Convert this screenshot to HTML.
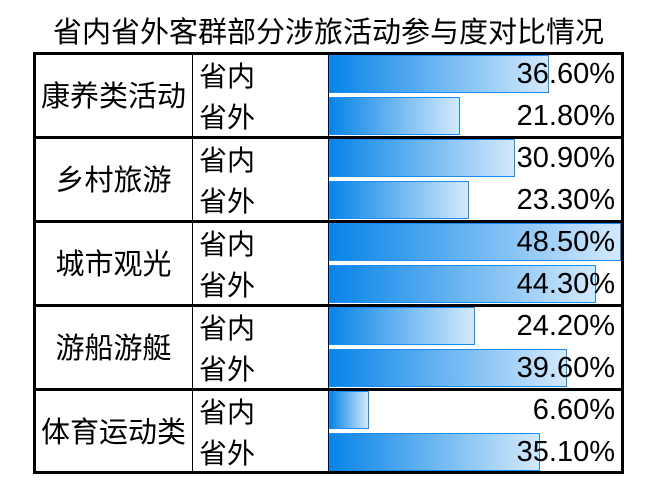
<!DOCTYPE html>
<html>
<head>
<meta charset="utf-8">
<style>
html,body{margin:0;padding:0;background:#fff;}
body{width:668px;height:496px;position:relative;overflow:hidden;font-family:"Liberation Sans","Noto Sans CJK SC",sans-serif;color:#000;}
.a{position:absolute;white-space:nowrap;}
.line{position:absolute;background:#000;}
.bar{position:absolute;left:329px;height:38px;box-sizing:border-box;border:1px solid #1a8cf0;background:linear-gradient(to right,#0784e8,#d3e9fc);}
.title{left:0;width:657px;text-align:center;font-size:29px;top:3px;height:60px;line-height:60px;}
.g{left:35px;width:157px;text-align:center;font-size:29px;height:40px;line-height:40px;}
.r{left:199px;font-size:28px;height:40px;line-height:40px;}
.p{right:53px;text-align:right;font-size:29px;height:40px;line-height:40px;}
</style>
</head>
<body>
<div class="a title">省内省外客群部分涉旅活动参与度对比情况</div>

<!-- bars -->
<div class="bar" style="top:55px;width:220px;"></div>
<div class="bar" style="top:97px;width:131px;"></div>
<div class="bar" style="top:139px;width:186px;"></div>
<div class="bar" style="top:181px;width:140px;"></div>
<div class="bar" style="top:223px;width:292px;"></div>
<div class="bar" style="top:265px;width:267px;"></div>
<div class="bar" style="top:307px;width:146px;"></div>
<div class="bar" style="top:349px;width:238px;"></div>
<div class="bar" style="top:391px;width:40px;"></div>
<div class="bar" style="top:433px;width:211px;"></div>

<!-- lines -->
<div class="line" style="left:33px;top:52px;width:591px;height:3px;"></div>
<div class="line" style="left:33px;top:136px;width:591px;height:3px;"></div>
<div class="line" style="left:33px;top:220px;width:591px;height:3px;"></div>
<div class="line" style="left:33px;top:304px;width:591px;height:3px;"></div>
<div class="line" style="left:33px;top:388px;width:591px;height:3px;"></div>
<div class="line" style="left:33px;top:471px;width:591px;height:3px;"></div>
<div class="line" style="left:33px;top:52px;width:3px;height:422px;"></div>
<div class="line" style="left:621px;top:52px;width:3px;height:422px;"></div>
<div class="line" style="left:192px;top:52px;width:1px;height:422px;"></div>
<div class="line" style="left:328px;top:52px;width:1px;height:422px;"></div>

<!-- group labels -->
<div class="a g" style="top:77px;">康养类活动</div>
<div class="a g" style="top:161px;">乡村旅游</div>
<div class="a g" style="top:245px;">城市观光</div>
<div class="a g" style="top:329px;">游船游艇</div>
<div class="a g" style="top:413px;">体育运动类</div>

<!-- row labels -->
<div class="a r" style="top:57px;">省内</div>
<div class="a r" style="top:98px;">省外</div>
<div class="a r" style="top:141px;">省内</div>
<div class="a r" style="top:182px;">省外</div>
<div class="a r" style="top:225px;">省内</div>
<div class="a r" style="top:266px;">省外</div>
<div class="a r" style="top:309px;">省内</div>
<div class="a r" style="top:350px;">省外</div>
<div class="a r" style="top:393px;">省内</div>
<div class="a r" style="top:434px;">省外</div>

<!-- percents -->
<div class="a p" style="top:54px;">36.60%</div>
<div class="a p" style="top:95.5px;">21.80%</div>
<div class="a p" style="top:138px;">30.90%</div>
<div class="a p" style="top:179.5px;">23.30%</div>
<div class="a p" style="top:222px;">48.50%</div>
<div class="a p" style="top:263.5px;">44.30%</div>
<div class="a p" style="top:306px;">24.20%</div>
<div class="a p" style="top:347.5px;">39.60%</div>
<div class="a p" style="top:390px;">6.60%</div>
<div class="a p" style="top:431.5px;">35.10%</div>
</body>
</html>
